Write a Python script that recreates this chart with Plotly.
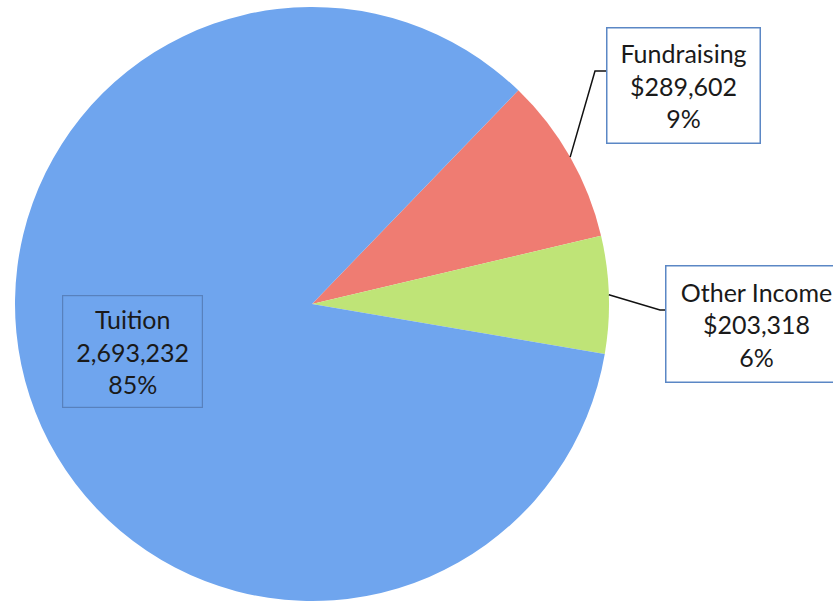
import math
import plotly.graph_objects as go

# ---- data ----
categories = ["Fundraising", "Other Income", "Tuition"]
values = [289602, 203318, 2693232]
value_labels = ["$289,602", "$203,318", "2,693,232"]
pct_labels = ["9%", "6%", "85%"]
colors = ["#ef7c72", "#bfe477", "#6fa5ee"]

W, H = 833, 605
CX, CY, R = 312, 304, 297
ROT = 44

def px(x):
    return x / W

def py(y):
    return 1 - y / H

fig = go.Figure()
fig.add_trace(go.Pie(
    labels=categories,
    values=values,
    sort=False,
    direction="clockwise",
    rotation=ROT,
    textinfo="none",
    hoverinfo="label+value+percent",
    marker=dict(colors=colors, line=dict(width=0)),
    domain=dict(x=[px(CX - R), px(CX + R)], y=[py(CY + R), py(CY - R)]),
    showlegend=False,
))

# mid-angle edge points of slices (computed from the data)
total = sum(values)
mids = []
acc = 0
for v in values:
    a = ROT + (acc + v / 2) / total * 360
    acc += v
    rad = math.radians(a)
    mids.append((CX + R * math.sin(rad), CY - R * math.cos(rad)))

font = dict(family="Lato, 'Open Sans', sans-serif", size=25, color="#1a1a1a")

def label_text(i):
    return f"{categories[i]}<br>{value_labels[i]}<br>{pct_labels[i]}"

common = dict(xref="paper", yref="paper", showarrow=False, font=font,
              align="center", xanchor="center", yanchor="middle", borderpad=1)

annotations = [
    dict(x=px(683.5), y=py(85.5), text=label_text(0), width=150, height=112,
         bordercolor="#5b87c5", borderwidth=1.5, bgcolor="white", **common),
    dict(x=px(756), y=py(324), text=label_text(1), width=178, height=113,
         bordercolor="#5b87c5", borderwidth=1.5, bgcolor="white", **common),
    dict(x=px(132), y=py(351), text=label_text(2), width=137, height=109,
         bordercolor="rgba(70,100,150,0.55)", borderwidth=1.2,
         bgcolor="rgba(0,0,0,0)", **common),
]

(fx, fy), (ox, oy) = mids[0], mids[1]
shapes = [
    dict(type="path", xref="paper", yref="paper",
         path=f"M {px(fx)} {py(fy)} L {px(595)} {py(71)} L {px(607)} {py(71)}",
         line=dict(color="#111111", width=1.5)),
    dict(type="path", xref="paper", yref="paper",
         path=f"M {px(ox)} {py(oy)} L {px(660)} {py(310)} L {px(667)} {py(310)}",
         line=dict(color="#111111", width=1.5)),
]

fig.update_layout(
    width=W, height=H,
    margin=dict(l=0, r=0, t=0, b=0),
    paper_bgcolor="white",
    plot_bgcolor="white",
    annotations=annotations,
    shapes=shapes,
)

fig.write_html("out.html", config={"displayModeBar": False},
               post_script="document.body.style.margin='0';")
